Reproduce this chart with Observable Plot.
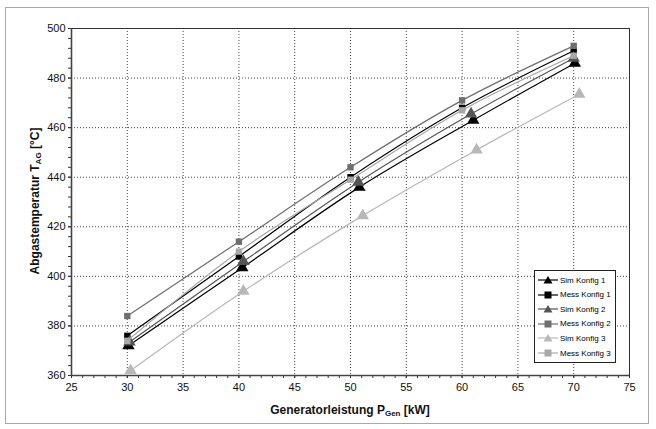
<!DOCTYPE html>
<html><head><meta charset="utf-8">
<script src="https://cdn.jsdelivr.net/npm/d3@7"></script>
<script src="https://cdn.jsdelivr.net/npm/@observablehq/plot@0.6"></script>
<style>
html,body{margin:0;padding:0;background:#fff;}
#wrap{position:relative;width:656px;height:429px;font-family:"Liberation Sans",Arial,sans-serif;}
#border{position:absolute;left:5px;top:7px;width:644px;height:417px;border:1.5px solid #a8a8a8;box-sizing:border-box;pointer-events:none;}
#legend{position:absolute;left:534px;top:270px;width:82px;height:93px;border:1px solid #222;background:#fff;box-sizing:border-box;font-size:8px;}
.li{position:absolute;left:3px;height:12px;display:flex;align-items:center;white-space:nowrap;}
.li svg{margin-right:2px;}
</style></head>
<body><div id="wrap"><div id="chart"></div><div id="border"></div><div id="legend"></div></div>
<script>
const seriesNames = ["Sim Konfig 1","Mess Konfig 1","Sim Konfig 2","Mess Konfig 2","Sim Konfig 3","Mess Konfig 3"];
const seriesColors = ["#000000","#000000","#555555","#6e6e6e","#b8b8b8","#a8a8a8"];
const seriesSymbols = ["triangle","square","triangle","square","triangle","square"];

const simK1_x = [30.1, 40.3, 50.8, 61.0, 70.1];
const simK1_y = [372, 403.5, 436, 463, 486];
const messK1_x = [30, 40, 50, 60, 70];
const messK1_y = [376, 408, 440, 468, 491];
const simK2_x = [30.2, 40.4, 50.7, 60.8, 70.0];
const simK2_y = [373.5, 406, 438, 465.5, 488];
const messK2_x = [30, 40, 50, 60, 70];
const messK2_y = [384, 414, 444, 471, 493];
const simK3_x = [30.3, 40.4, 51.1, 61.3, 70.5];
const simK3_y = [362, 394, 424.5, 451, 473.5];
const messK3_x = [30, 40, 50, 60, 70];
const messK3_y = [374, 410, 439, 467, 489];

const xTicks = [25,30,35,40,45,50,55,60,65,70,75];
const yTicks = [360,380,400,420,440,460,480,500];

const xs = [simK1_x, messK1_x, simK2_x, messK2_x, simK3_x, messK3_x];
const ys = [simK1_y, messK1_y, simK2_y, messK2_y, simK3_y, messK3_y];
const data = [];
seriesNames.forEach((s,i)=>xs[i].forEach((x,j)=>data.push({series:s, idx:i, x, y:ys[i][j]})));

const marks = [
  Plot.gridX(xTicks.slice(1,-1), {stroke:"#444", strokeOpacity:1, strokeDasharray:"1,2"}),
  Plot.gridY(yTicks.slice(1,-1), {stroke:"#444", strokeOpacity:1, strokeDasharray:"1,2"}),
  Plot.axisX(d3.range(25,75.01,1), {tickSize:3, text:null, label:null, stroke:"#333"}),
  Plot.axisY(d3.range(360,500.01,4), {tickSize:3, text:null, label:null, stroke:"#333"}),
  Plot.axisX(xTicks, {tickSize:3, tickPadding:5, fontSize:11, label:null, stroke:"#333"}),
  Plot.axisY(yTicks, {tickSize:3, tickPadding:3, fontSize:11, label:null, stroke:"#333"}),
  Plot.frame({stroke:"#333"}),
];
seriesNames.forEach((s,i)=>{
  const d = data.filter(e=>e.idx===i);
  marks.push(Plot.line(d, {x:"x", y:"y", stroke:seriesColors[i], strokeWidth:1.2, curve:"catmull-rom"}));
  marks.push(Plot.dot(d, {x:"x", y:"y", symbol:seriesSymbols[i], fill:seriesColors[i], stroke:"none", r:seriesSymbols[i]==="triangle"?4.6:3.6}));
});
marks.push(Plot.ruleX([25], {stroke:"#444", strokeWidth:1.6}));
marks.push(Plot.ruleY([360], {stroke:"#444", strokeWidth:1.6}));

const chart = Plot.plot({
  width:656, height:429,
  marginLeft:71, marginRight:27, marginTop:28, marginBottom:54,
  x:{domain:[25,75], label:null}, y:{domain:[360,500], label:null},
  style:{fontFamily:"'Liberation Sans', Arial, sans-serif", fontSize:"11px", color:"#111", background:"transparent"},
  marks
});
document.getElementById("chart").appendChild(chart);

const svg = d3.select(chart);
const xt = svg.append("text").attr("x", 350).attr("y", 414).attr("text-anchor","middle")
  .attr("font-weight","bold").attr("font-size", 12).attr("fill","#111");
xt.append("tspan").text("Generatorleistung P");
xt.append("tspan").attr("font-size", 8).attr("dy", 2).text("Gen");
xt.append("tspan").attr("dy", -2).text(" [kW]");
const yt = svg.append("text").attr("transform","translate(39,201) rotate(-90)").attr("text-anchor","middle")
  .attr("font-weight","bold").attr("font-size", 12).attr("fill","#111");
yt.append("tspan").text("Abgastemperatur T");
yt.append("tspan").attr("font-size", 8).attr("dy", 2).text("AG");
yt.append("tspan").attr("dy", -2).text(" [°C]");

const leg = document.getElementById("legend");
seriesNames.forEach((s,i)=>{
  const div = document.createElement("div");
  div.className = "li";
  div.style.top = (3 + i*14.6) + "px";
  const sym = seriesSymbols[i]==="triangle"
    ? `<path d="M10,2 L14.5,9.5 L5.5,9.5 Z" fill="${seriesColors[i]}"/>`
    : `<rect x="6.5" y="2.5" width="7" height="7" fill="${seriesColors[i]}"/>`;
  div.innerHTML = `<svg width="20" height="12"><line x1="0" y1="6" x2="20" y2="6" stroke="${seriesColors[i]}" stroke-width="1.2"/>${sym}</svg><span>${s}</span>`;
  leg.appendChild(div);
});
</script></body></html>
